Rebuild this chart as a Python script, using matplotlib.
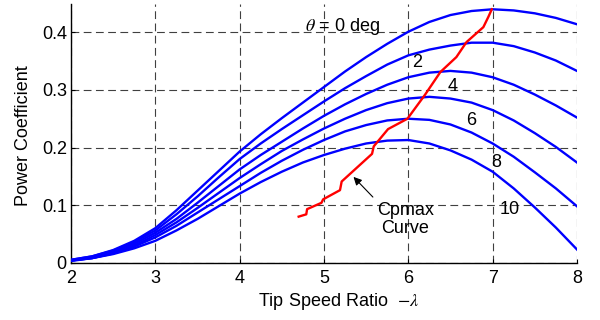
import matplotlib
matplotlib.use("Agg")
import matplotlib.pyplot as plt

plt.rcParams['font.family'] = ['Liberation Sans', 'DejaVu Sans']
plt.rcParams['mathtext.fontset'] = 'stix'

# tip speed ratio grid the curves were read at
tsr = [2.0, 2.25, 2.5, 2.75, 3.0, 3.25, 3.5, 3.75, 4.0, 4.25, 4.5, 4.75, 5.0,
       5.25, 5.5, 5.75, 6.0, 6.25, 6.5, 6.75, 7.0, 7.25, 7.5, 7.75, 8.0]

# power coefficient for each pitch angle (deg)
cp_pitch0 = [0.005, 0.011, 0.022, 0.038, 0.060, 0.091, 0.125, 0.159, 0.193, 0.223, 0.251, 0.278, 0.305,
             0.332, 0.357, 0.380, 0.401, 0.418, 0.430, 0.437, 0.440, 0.438, 0.433, 0.425, 0.414]
cp_pitch2 = [0.005, 0.011, 0.021, 0.036, 0.056, 0.084, 0.115, 0.148, 0.180, 0.207, 0.232, 0.256, 0.280,
             0.303, 0.324, 0.344, 0.360, 0.370, 0.377, 0.382, 0.382, 0.376, 0.365, 0.351, 0.333]
cp_pitch4 = [0.004, 0.009, 0.019, 0.033, 0.052, 0.076, 0.104, 0.133, 0.162, 0.187, 0.210, 0.233, 0.255,
             0.275, 0.293, 0.309, 0.322, 0.330, 0.333, 0.330, 0.322, 0.309, 0.292, 0.273, 0.252]
cp_pitch6 = [0.004, 0.008, 0.017, 0.030, 0.048, 0.070, 0.095, 0.121, 0.147, 0.171, 0.194, 0.214, 0.233,
             0.250, 0.265, 0.277, 0.285, 0.288, 0.285, 0.278, 0.265, 0.247, 0.225, 0.201, 0.174]
cp_pitch8 = [0.004, 0.008, 0.016, 0.028, 0.044, 0.064, 0.087, 0.110, 0.133, 0.156, 0.177, 0.196, 0.213,
             0.228, 0.239, 0.247, 0.250, 0.248, 0.240, 0.226, 0.207, 0.184, 0.157, 0.129, 0.098]
cp_pitch10 = [0.003, 0.008, 0.015, 0.025, 0.038, 0.056, 0.076, 0.098, 0.120, 0.140, 0.158, 0.174, 0.187,
              0.198, 0.207, 0.212, 0.213, 0.207, 0.195, 0.179, 0.158, 0.129, 0.096, 0.061, 0.023]

# Cpmax locus (red)
cpmax_tsr = [4.70, 4.79, 4.80, 4.97, 4.99, 5.19, 5.21, 5.57, 5.59, 5.76, 5.99,
             6.20, 6.38, 6.57, 6.69, 6.89, 6.95, 6.99]
cpmax_cp = [0.080, 0.084, 0.093, 0.104, 0.110, 0.126, 0.141, 0.189, 0.202, 0.232, 0.250,
            0.292, 0.331, 0.357, 0.383, 0.409, 0.427, 0.440]

# curve labels
label_text = ['2', '4', '6', '8', '10']
label_x = [6.11, 6.53, 6.74, 7.04, 7.20]
label_y = [0.347, 0.306, 0.247, 0.174, 0.092]

fig = plt.figure(figsize=(6, 3.2), dpi=100)
ax = fig.add_axes([0.1183, 0.179, 0.8433, 0.81])

for cp in [cp_pitch0, cp_pitch2, cp_pitch4, cp_pitch6, cp_pitch8, cp_pitch10]:
    ax.plot(tsr, cp, color='#0000ff', lw=1.7, zorder=3)
ax.plot(cpmax_tsr, cpmax_cp, color='#ff0000', lw=1.7, zorder=4)

ax.set_xlim(2, 8)
ax.set_ylim(0, 0.45)
ax.set_xticks([2, 3, 4, 5, 6, 7, 8])
ax.set_yticks([0, 0.1, 0.2, 0.3, 0.4])
ax.set_yticklabels(['0', '0.1', '0.2', '0.3', '0.4'])
ax.tick_params(direction='in', length=3, labelsize=13, pad=3, width=0.8)
ax.tick_params(axis='x', pad=5)

ax.grid(True, color='#404040', lw=0.8, linestyle=(0, (7, 4)), zorder=1)
ax.set_axisbelow(True)
ax.spines['top'].set_visible(False)
ax.spines['right'].set_visible(False)
ax.spines['left'].set_linewidth(1.0)
ax.spines['bottom'].set_linewidth(1.0)

ax.set_xlabel(r'Tip Speed Ratio  $-\lambda$', fontsize=13)
ax.xaxis.set_label_coords(0.529, -0.151)
ax.xaxis.label.set_va('center')
ax.set_ylabel('Power Coefficient', fontsize=13)
ax.yaxis.set_label_coords(-0.094, 0.49)
ax.yaxis.label.set_va('center')

ax.text(4.77, 0.41, r'$\theta$ = 0 deg', fontsize=13, ha='left', va='center')
for t, x, y in zip(label_text, label_x, label_y):
    ax.text(x, y, t, fontsize=13, ha='center', va='center')

ax.text(5.966, 0.075, 'Cpmax\nCurve', fontsize=13, ha='center', va='center',
        linespacing=1.05)
ax.annotate('', xy=(5.35, 0.149), xytext=(5.58, 0.114),
            arrowprops=dict(arrowstyle='-|>', color='black', lw=0.8,
                            mutation_scale=12, shrinkA=0, shrinkB=0))

fig.savefig('out.png', dpi=100)
